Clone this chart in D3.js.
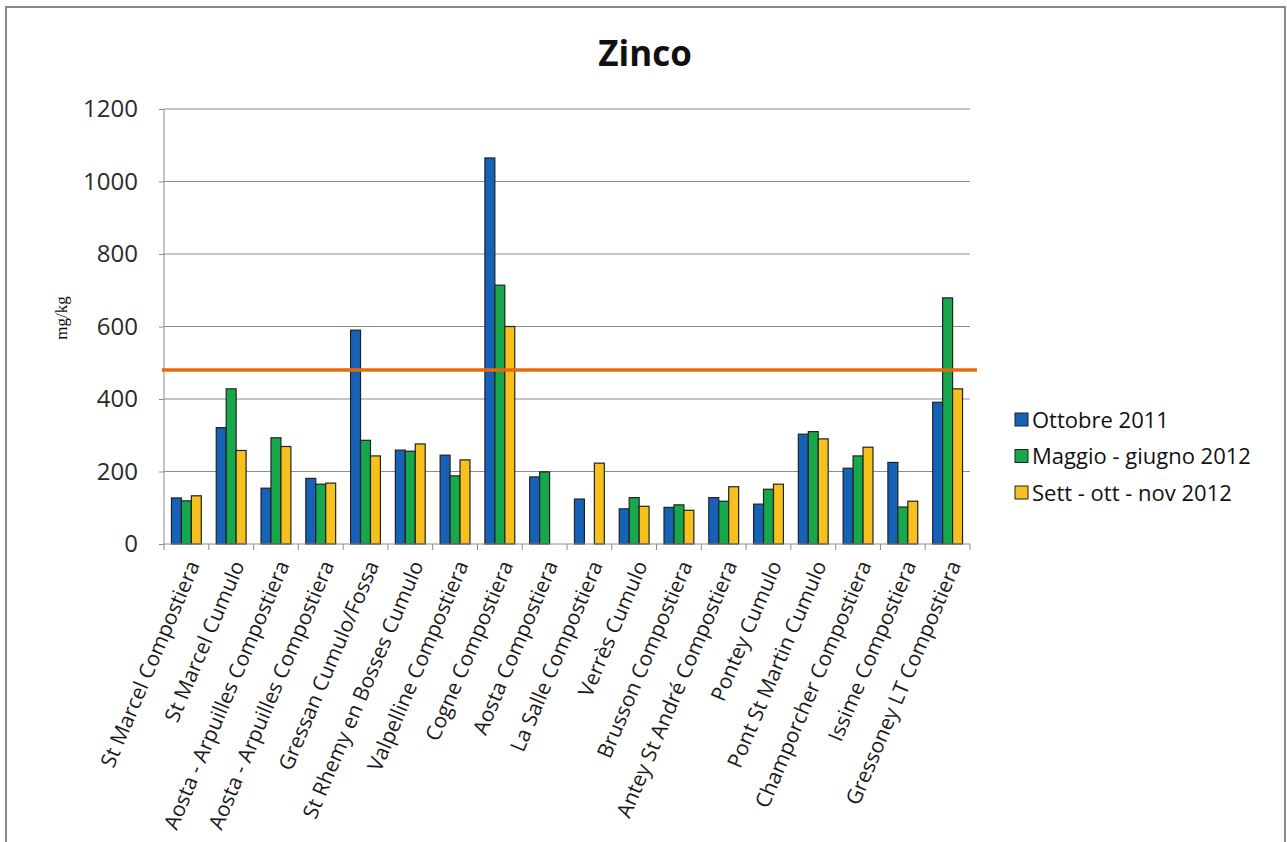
<!DOCTYPE html>
<html>
<head>
<meta charset="utf-8">
<script src="https://cdn.jsdelivr.net/npm/d3@7"></script>
<style>
  html, body { margin: 0; padding: 0; background: #fff; }
  svg { display: block; }
</style>
</head>
<body>
<svg id="chart" width="1287" height="842"></svg>
<script>
const categories = ["St Marcel Compostiera","St Marcel Cumulo","Aosta - Arpuilles Compostiera","Aosta - Arpuilles Compostiera","Gressan Cumulo/Fossa","St Rhemy en Bosses Cumulo","Valpelline Compostiera","Cogne Compostiera","Aosta Compostiera","La Salle Compostiera","Verrès Cumulo","Brusson Compostiera","Antey St André Compostiera","Pontey Cumulo","Pont St Martin Cumulo","Champorcher Compostiera","Issime Compostiera","Gressoney LT Compostiera"];
const seriesNames = ["Ottobre 2011","Maggio - giugno 2012","Sett - ott - nov 2012"];
const ottobre2011 = [127,321,154,181,590,259,245,1065,185,124,97,101,128,110,303,209,225,391];
const maggioGiugno2012 = [119,428,293,165,286,256,188,714,199,null,128,108,118,151,310,243,102,679];
const settOttNov2012 = [133,258,269,168,243,276,232,600,null,223,104,93,158,165,290,267,118,428];
const yTicks = [0,200,400,600,800,1000,1200];
const limitValue = 480;
const chartTitle = "Zinco";
const yLabel = "mg/kg";

const series = [ottobre2011, maggioGiugno2012, settOttNov2012];
const colors = ["#1562b8", "#17a84b", "#f6c11c"];

const svg = d3.select("#chart");
const pLeft = 164, pRight = 970, pTop = 109, pBottom = 544;

// outer border
svg.append("rect").attr("x", 6).attr("y", 7).attr("width", 1279).attr("height", 860)
  .attr("fill", "none").attr("stroke", "#8a8a8a").attr("stroke-width", 2);

const x = d3.scaleBand().domain(d3.range(categories.length)).range([pLeft, pRight]).padding(0);
const y = d3.scaleLinear().domain([0, 1200]).range([pBottom, pTop]);

// gridlines
svg.append("g").selectAll("line").data(yTicks.filter(t => t > 0)).join("line")
  .attr("x1", pLeft).attr("x2", pRight)
  .attr("y1", d => y(d)).attr("y2", d => y(d))
  .attr("stroke", "#8c8c8c").attr("stroke-width", 1);

// y axis
const yAxis = svg.append("g").attr("transform", `translate(${pLeft},0)`)
  .call(d3.axisLeft(y).tickValues(yTicks).tickSize(5).tickPadding(21).tickFormat(d3.format("d")));
yAxis.select(".domain").attr("stroke", "#8c8c8c").attr("d", `M0,${pTop}V${pBottom}`);
yAxis.selectAll(".tick line").attr("stroke", "#8c8c8c");
yAxis.selectAll(".tick text").attr("font-family", "'Open Sans', sans-serif").attr("font-size", 24).attr("fill", "#2a2a2a");

// bars
const W = x.bandwidth();
const bw = W / 4.5;
series.forEach((vals, si) => {
  svg.append("g").selectAll("rect")
    .data(vals.map((v, i) => ({ v, i })).filter(d => d.v !== null))
    .join("rect")
    .attr("x", d => x(d.i) + 0.75 * bw + si * bw)
    .attr("y", d => y(d.v))
    .attr("width", bw)
    .attr("height", d => y(0) - y(d.v))
    .attr("fill", colors[si])
    .attr("stroke", "#222").attr("stroke-width", 1.2);
});

// x axis
const xAxis = svg.append("g").attr("transform", `translate(0,${pBottom})`);
xAxis.append("line").attr("x1", pLeft).attr("x2", pRight).attr("y1", 0).attr("y2", 0).attr("stroke", "#8c8c8c");
xAxis.selectAll(".tk").data(d3.range(categories.length + 1)).join("line")
  .attr("class", "tk")
  .attr("x1", i => pLeft + i * W).attr("x2", i => pLeft + i * W)
  .attr("y1", 0).attr("y2", 6).attr("stroke", "#8c8c8c");
xAxis.selectAll("text").data(categories).join("text")
  .attr("transform", (d, i) => `translate(${x(i) + W / 2 + 7},${18}) rotate(-67)`)
  .attr("text-anchor", "end")
  .attr("dy", "0.35em")
  .attr("font-family", "'Open Sans', sans-serif").attr("font-size", 21).attr("fill", "#1a1a1a")
  .text(d => d);

// limit line
svg.append("line").attr("x1", pLeft - 2).attr("x2", pRight + 7)
  .attr("y1", y(limitValue)).attr("y2", y(limitValue))
  .attr("stroke", "#e46c0a").attr("stroke-width", 3.5);

// title
svg.append("text").attr("x", 645).attr("y", 66).attr("text-anchor", "middle")
  .attr("font-family", "'Open Sans', sans-serif").attr("font-weight", "bold").attr("font-size", 35)
  .attr("fill", "#111").text(chartTitle);

// y label
svg.append("text").attr("transform", `translate(67,318) rotate(-90)`).attr("text-anchor", "middle")
  .attr("font-family", "'Liberation Serif', 'Times New Roman', serif").attr("font-size", 17)
  .attr("fill", "#111").text(yLabel);

// legend
const lg = svg.append("g");
seriesNames.forEach((n, i) => {
  const cy = 420 + i * 36.5;
  lg.append("rect").attr("x", 1015).attr("y", cy - 7).attr("width", 13).attr("height", 13)
    .attr("fill", colors[i]).attr("stroke", "#222").attr("stroke-width", 1);
  lg.append("text").attr("x", 1032).attr("y", cy).attr("dy", "0.35em")
    .attr("font-family", "'Open Sans', sans-serif").attr("font-size", 22).attr("fill", "#111").text(n);
});
</script>
</body>
</html>
